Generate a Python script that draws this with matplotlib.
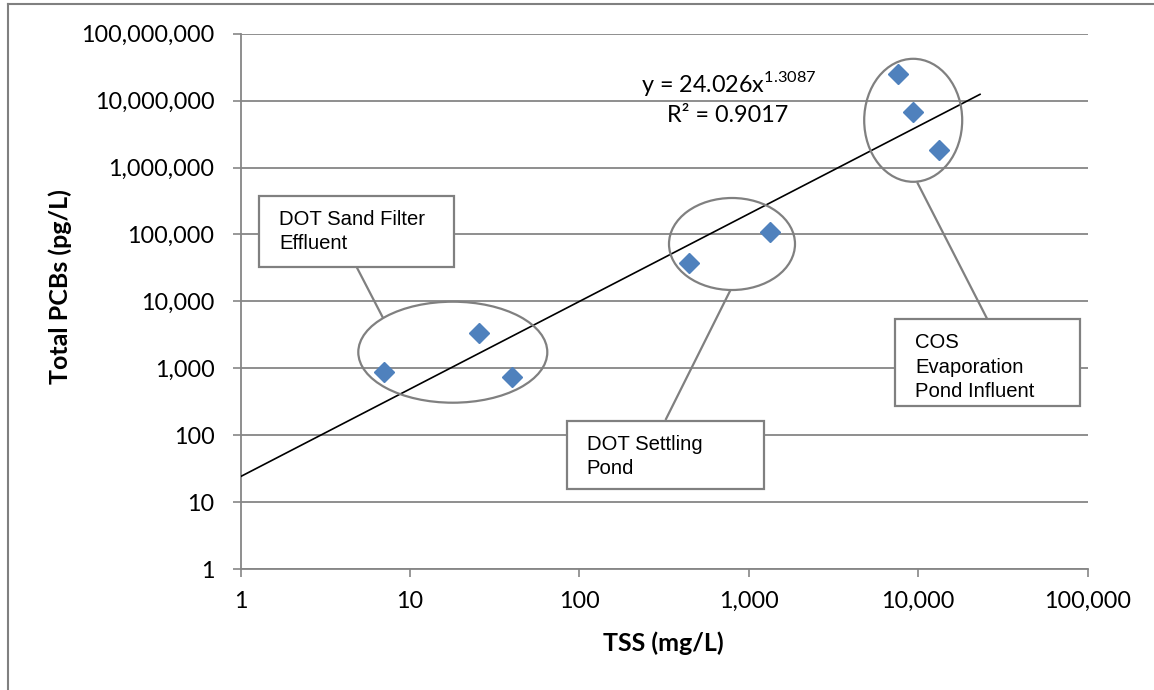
import numpy as np
import matplotlib
matplotlib.use("Agg")
import matplotlib.pyplot as plt
from matplotlib.patches import Ellipse, Rectangle
from matplotlib.lines import Line2D
from matplotlib.ticker import FixedLocator, FuncFormatter

# ---- data ----
tss = [7.0, 25.5, 40.1, 447, 1337, 7630, 9270, 13200]
pcbs = [870, 3330, 752, 37800, 107000, 25000000, 6850000, 1810000]
trend_a = 24.026
trend_b = 1.3087
trend_x = [1, 23200]
x_ticks = [1, 10, 100, 1000, 10000, 100000]
y_ticks = [1, 10, 100, 1000, 10000, 100000, 1000000, 10000000, 100000000]
groups = ["DOT Sand Filter\nEffluent", "DOT Settling\nPond", "COS\nEvaporation\nPond Influent"]
eq_text = r"y = 24.026x$^{\mathregular{1.3087}}$"
r2_text = "R² = 0.9017"

W, H = 1154, 690
fig = plt.figure(figsize=(W / 100, H / 100), dpi=100)
L, R, T, B = 240.5, 1087.5, 33.7, 569.0
ax = fig.add_axes([L / W, 1 - B / H, (R - L) / W, (B - T) / H])

tick_font = "Lato"
gray = "#868686"
tsize = 16.8

ax.set_xscale("log")
ax.set_yscale("log")
ax.set_xlim(1, 100000)
ax.set_ylim(1, 100000000)
ax.xaxis.set_major_locator(FixedLocator(x_ticks))
ax.yaxis.set_major_locator(FixedLocator(y_ticks))
ax.xaxis.set_minor_locator(FixedLocator([]))
ax.yaxis.set_minor_locator(FixedLocator([]))
fmt = FuncFormatter(lambda v, p: f"{int(round(v)):,}")
ax.xaxis.set_major_formatter(fmt)
ax.yaxis.set_major_formatter(fmt)
ax.tick_params(axis="both", direction="out", length=5.8, width=1.2, color=gray,
               labelsize=tsize)
for lab in ax.get_xticklabels() + ax.get_yticklabels():
    lab.set_fontfamily(tick_font)
ax.tick_params(axis="x", pad=10)
ax.tick_params(axis="y", pad=13)

for s in ["top", "right"]:
    ax.spines[s].set_visible(False)
for s in ["left", "bottom"]:
    ax.spines[s].set_color(gray)
    ax.spines[s].set_linewidth(1.3)

ax.grid(axis="y", color=gray, linewidth=1.3)
ax.grid(axis="x", visible=False)
ax.set_axisbelow(True)

# trendline
tx = np.array(trend_x, dtype=float)
tx = np.logspace(np.log10(tx[0]), np.log10(tx[1]), 50)
ax.plot(tx, trend_a * tx ** trend_b, color="black", linewidth=1.2, zorder=3)

# points
ax.plot(tss, pcbs, linestyle="none", marker="D", markersize=10,
        color="#4F81BD", markeredgecolor="#4F81BD", zorder=4)

# equation text
ax.text((729 - L) / (R - L), 1 - (83 - T) / (B - T), eq_text, transform=ax.transAxes,
        ha="center", va="center", fontsize=tsize, family=tick_font, zorder=5)
ax.text((728 - L) / (R - L), 1 - (116 - T) / (B - T), r2_text, transform=ax.transAxes,
        ha="center", va="center", fontsize=tsize, family=tick_font, zorder=5)

# helpers in pixel coords -> axes fraction
def fx(px):
    return (px - L) / (R - L)

def fy(py):
    return (B - py) / (B - T)

ell_gray = "#808080"
ellipses = [((452.8, 352.2), 189, 101), ((732, 244), 126, 92), ((913.2, 120.3), 98, 123)]
for (cx, cy), w, h in ellipses:
    ax.add_patch(Ellipse((fx(cx), fy(cy)), w / (R - L), h / (B - T), transform=ax.transAxes,
                         fill=False, edgecolor=ell_gray, linewidth=1.6, zorder=5))

leaders = [((357.3, 268.3), (382.7, 317.3)), ((666, 419), (730, 291)), ((917.7, 183.3), (986.7, 318))]
for (x0, y0), (x1, y1) in leaders:
    ax.add_line(Line2D([fx(x0), fx(x1)], [fy(y0), fy(y1)], transform=ax.transAxes,
                       color=ell_gray, linewidth=1.6, zorder=5, clip_on=False))

boxes = [(259.3, 195.7, 454, 267.3), (566.7, 421, 764, 489.3), (895, 319.3, 1080, 406)]
for (x0, y0, x1, y1), label in zip(boxes, groups):
    ax.add_patch(Rectangle((fx(x0), fy(y1)), fx(x1) - fx(x0), fy(y0) - fy(y1),
                           transform=ax.transAxes, facecolor="white", edgecolor=ell_gray,
                           linewidth=1.6, zorder=6, clip_on=False))
    ax.text(fx(x0 + 20), fy(y0 + 14), label, transform=ax.transAxes, ha="left", va="top",
            fontsize=14.6, family="Liberation Sans", linespacing=1.36, zorder=7)

# axis titles
fig.text(663 / W, 1 - 643 / H, "TSS (mg/L)", ha="center", va="center",
         fontsize=18, fontweight="bold", family=tick_font)
fig.text(60 / W, 1 - 287 / H, "Total PCBs (pg/L)", ha="center", va="center",
         rotation=90, fontsize=18, fontweight="bold", family=tick_font)

# outer border (top and left only)
fig.add_artist(Line2D([8 / W, 1], [1 - 4.3 / H, 1 - 4.3 / H], transform=fig.transFigure,
                      color="#808080", linewidth=1.5))
fig.add_artist(Line2D([7.7 / W, 7.7 / W], [0, 1 - 4.3 / H], transform=fig.transFigure,
                      color="#808080", linewidth=1.5))

fig.savefig("out.png", dpi=100, facecolor="white")
